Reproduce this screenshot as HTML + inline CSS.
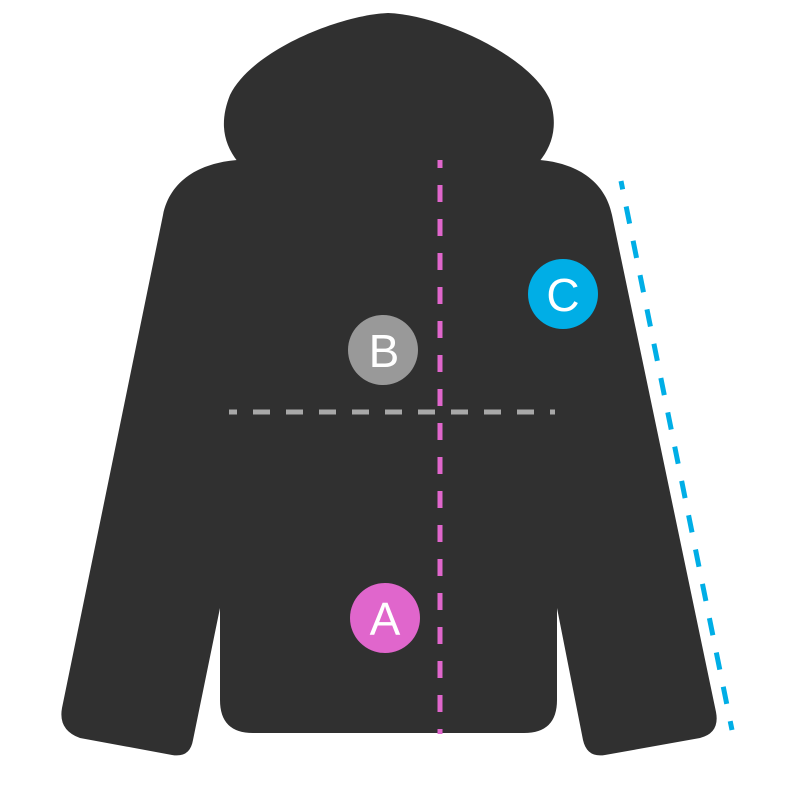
<!DOCTYPE html>
<html><head><style>html,body{margin:0;padding:0;background:#fff}svg{display:block}</style></head>
<body>
<svg width="800" height="800" viewBox="0 0 800 800" xmlns="http://www.w3.org/2000/svg">
<path fill="#303030" d="M 237,160 C 200,163 170,180 163,215 L 62,708 Q 58,730 80,738 L 172,755 Q 190,758 193,740 L 220,608 L 220,700 Q 220,733 253,733 L 524,733 Q 557,733 557,700 L 557,608 L 583,740 Q 587,758 605,755 L 700,738 Q 720,733 716,712 L 612,215 C 605,180 575,163 540,160 Z"/>
<path fill="#303030" d="M 238,162 C 222,142 220,120 230,95 C 252,50 340,15 388,13 C 440,15 530,55 550,100 C 558,125 553,145 539,162 Z"/>
<line x1="440" y1="160" x2="440" y2="734" stroke="#e066cc" stroke-width="5" stroke-dasharray="17 17" stroke-dashoffset="9"/>
<line x1="229" y1="412" x2="555" y2="412" stroke="#a8a8a8" stroke-width="5" stroke-dasharray="17 16" stroke-dashoffset="9"/>
<line x1="621" y1="181" x2="732" y2="730" stroke="#00aee6" stroke-width="5" stroke-dasharray="17.5 17.5" stroke-dashoffset="9"/>
<g font-family="Liberation Sans, sans-serif" font-size="46" fill="#fff" text-anchor="middle">
<circle cx="385" cy="618" r="35" fill="#e066cc"/><text x="385" y="635">A</text>
<circle cx="383" cy="350" r="35" fill="#999"/><text x="384" y="367">B</text>
<circle cx="563" cy="294" r="35" fill="#00aee6"/><text x="563" y="311">C</text>
</g>
</svg>
</body></html>
